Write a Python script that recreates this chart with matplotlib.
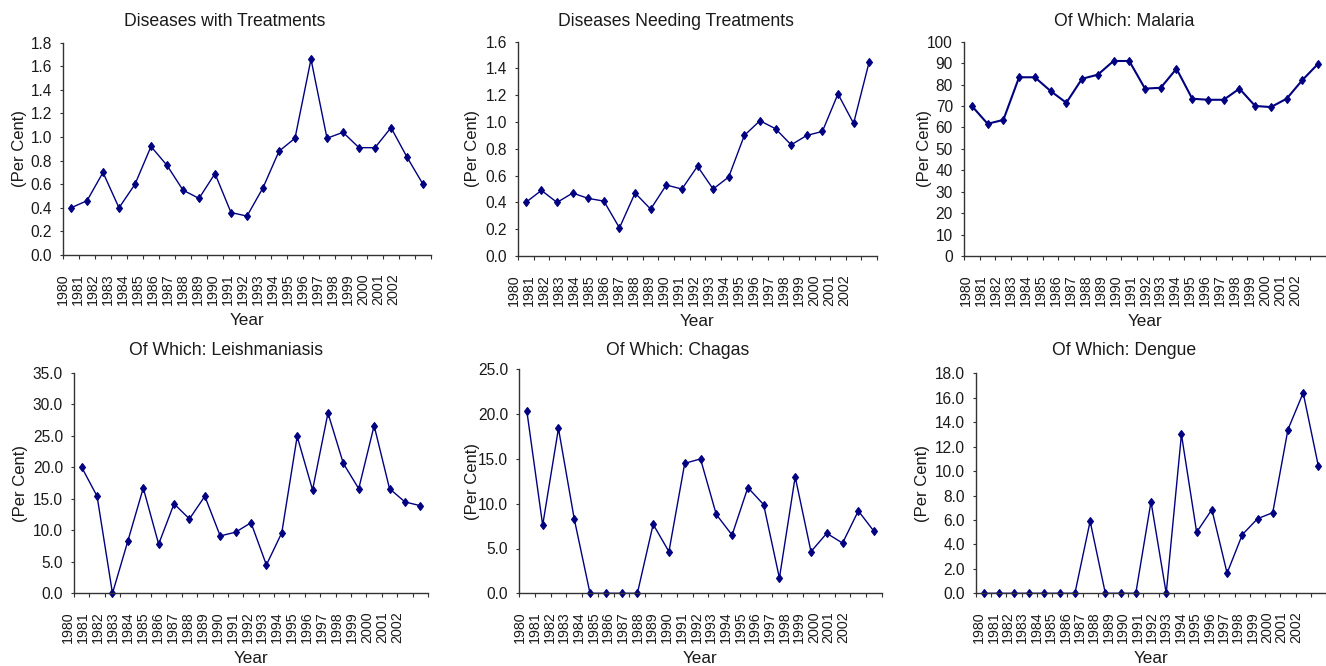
import matplotlib.pyplot as plt
import numpy as np
from matplotlib.ticker import FormatStrFormatter

plt.rcParams['font.family'] = ['Liberation Sans', 'DejaVu Sans']

years = [str(y) for y in range(1980, 2003)]

with_treatments = [0.40, 0.46, 0.70, 0.40, 0.60, 0.92, 0.76, 0.55, 0.48, 0.69, 0.36, 0.33,
                   0.57, 0.88, 0.99, 1.66, 0.99, 1.04, 0.91, 0.91, 1.08, 0.83, 0.60]
needing_treatments = [0.40, 0.49, 0.40, 0.47, 0.43, 0.41, 0.21, 0.47, 0.35, 0.53, 0.50, 0.67,
                      0.50, 0.59, 0.90, 1.01, 0.95, 0.83, 0.90, 0.93, 1.21, 0.99, 1.45]
malaria = [70.0, 61.7, 63.5, 83.4, 83.4, 77.0, 71.5, 82.7, 84.6, 91.0, 91.0, 78.1,
           78.5, 87.4, 73.4, 72.9, 72.9, 78.1, 70.0, 69.5, 73.4, 82.1, 89.7]
leishmaniasis = [20.0, 15.4, 0.0, 8.3, 16.7, 7.8, 14.2, 11.8, 15.4, 9.1, 9.7, 11.2,
                 4.5, 9.6, 24.9, 16.4, 28.6, 20.6, 16.6, 26.6, 16.6, 14.5, 13.9]
chagas = [20.3, 7.6, 18.4, 8.3, 0.0, 0.0, 0.0, 0.0, 7.7, 4.65, 14.5, 15.0,
          8.8, 6.5, 11.8, 9.9, 1.7, 13.0, 4.65, 6.7, 5.6, 9.2, 6.9]
dengue = [0.0, 0.0, 0.0, 0.0, 0.0, 0.0, 0.0, 5.9, 0.0, 0.0, 0.0, 7.5,
          0.0, 13.0, 5.0, 6.85, 1.65, 4.8, 6.1, 6.6, 13.4, 16.4, 10.4]

W, H = 1326, 666
fig = plt.figure(figsize=(W / 100, H / 100), dpi=100)
navy = '#000080'
txt = '#1a1a1a'

# (values, title, ymax, ystep, fmt, box px (l, t, r, b), label offset px, label step px,
#  title centre px, ylabel distance px, line width)
panels = [
    (with_treatments, 'Diseases with Treatments', 1.8, 0.2, '%.1f', (63, 42.7, 431, 255), 0, 15.0, (225, 21), 43, 1.0),
    (needing_treatments, 'Diseases Needing Treatments', 1.6, 0.2, '%.1f', (518, 41.7, 877, 256), -4, 15.0, (676, 21), 46, 1.0),
    (malaria, 'Of Which: Malaria', 100, 10, '%d', (964, 41.7, 1326, 256), 2, 14.95, (1124, 21), 40, 1.5),
    (leishmaniasis, 'Of Which: Leishmaniasis', 35, 5, '%.1f', (74, 372.7, 428, 593.3), -6, 14.95, (226, 351), 53, 1.0),
    (chagas, 'Of Which: Chagas', 25, 5, '%.1f', (519, 369.3, 882, 593.3), 1, 14.7, (678, 351), 47, 1.0),
    (dengue, 'Of Which: Dengue', 18, 2, '%.1f', (976, 373.3, 1326, 593.3), 3, 14.4, (1124, 351), 54, 1.0),
]

for vals, title, ymax, ystep, fmt, box, off, step, tpos, ylab_d, lw in panels:
    l, t, r, b = box
    wpx, hpx = r - l, b - t
    ax = fig.add_axes([l / W, 1 - b / H, wpx / W, hpx / H])
    n = len(vals)
    x = np.arange(n)
    ax.plot(x, vals, color=navy, lw=lw, marker='d', ms=4.5, mew=0.8, clip_on=False)
    ax.set_xlim(-0.5, n - 0.5)
    ax.set_ylim(0, ymax)
    ax.set_yticks(np.arange(0, ymax + ystep / 2, ystep))
    ax.yaxis.set_major_formatter(FormatStrFormatter(fmt))
    ax.set_xticks(np.arange(n + 1) - 0.5)
    ax.set_xticklabels([])
    ax.tick_params(axis='x', length=3, direction='out', color='#333333')
    ax.tick_params(axis='y', length=2, pad=6, labelsize=11.2, labelcolor=txt, color='#333333')
    for s in ['top', 'right']:
        ax.spines[s].set_visible(False)
    for s in ['left', 'bottom']:
        ax.spines[s].set_color('#333333')
        ax.spines[s].set_linewidth(1.0)

    # compressed year labels, as in the original
    cat = wpx / n
    trans = ax.get_xaxis_transform()
    for i, yr in enumerate(years):
        ax.text(-0.5 + (off + i * step) / cat, -18 / hpx, yr, transform=trans,
                rotation=90, ha='center', va='top', fontsize=10.3, color=txt)

    ax.set_xlabel('Year', fontsize=12.3, color=txt)
    ax.xaxis.label.set_va('center')
    ax.xaxis.set_label_coords(0.5, -65.5 / hpx)
    ax.set_ylabel('(Per Cent)', fontsize=12, color=txt)
    ax.yaxis.label.set_va('center')
    ax.yaxis.set_label_coords(-ylab_d / wpx, 0.5)

    fig.text(tpos[0] / W, 1 - tpos[1] / H, title, ha='center', va='center',
             fontsize=12.7, color=txt)

plt.savefig('out.png', dpi=100)
